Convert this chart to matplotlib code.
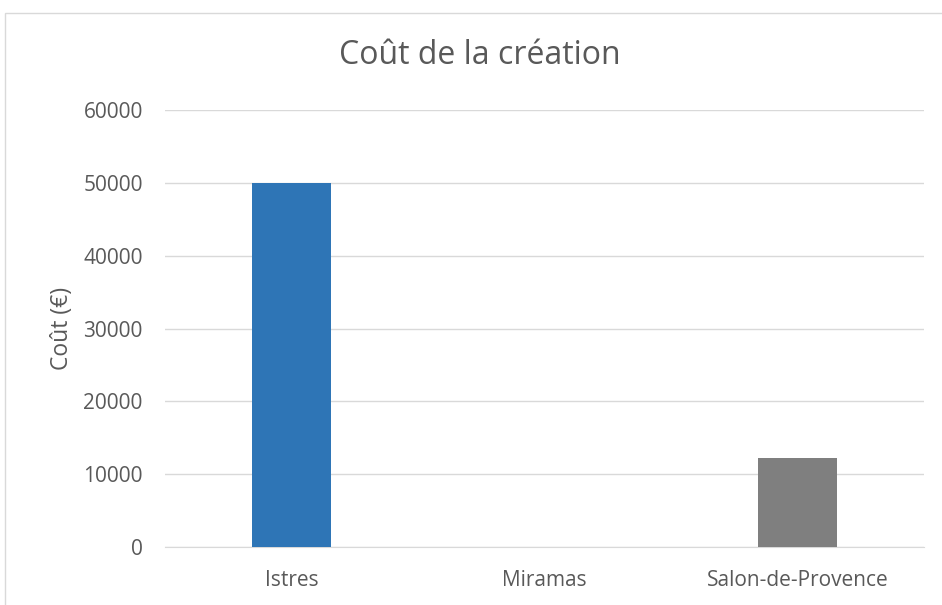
import matplotlib
matplotlib.use("Agg")
import matplotlib.pyplot as plt
from matplotlib.patches import Rectangle

categories = ["Istres", "Miramas", "Salon-de-Provence"]
values = [50000, 0, 12250]
colors = ["#2E75B6", "#ED7D31", "#7F7F7F"]
yticks = [0, 10000, 20000, 30000, 40000, 50000, 60000]

plt.rcParams['font.family'] = ['Open Sans', 'DejaVu Sans']

W, H = 942, 605
fig = plt.figure(figsize=(W/100, H/100), dpi=100)
ax = fig.add_axes([165/W, 1-547/H, (924-165)/W, (547-110)/H])

x = range(len(categories))
ax.bar(x, values, width=0.316, color=colors, zorder=3)
ax.set_xlim(-0.5, 2.5)
ax.set_ylim(0, 60000)
ax.set_yticks(yticks)
ax.set_yticklabels([str(v) for v in yticks])
ax.set_xticks(list(x))
ax.set_xticklabels(categories)
ax.tick_params(axis='both', length=0, colors='#595959', labelsize=15)
ax.tick_params(axis='y', pad=16)
ax.tick_params(axis='x', pad=16.5)
ax.grid(axis='y', color='#D9D9D9', linewidth=1, zorder=0)
for s in ['top', 'right', 'left']:
    ax.spines[s].set_visible(False)
ax.spines['bottom'].set_color('#D9D9D9')
ax.set_ylabel("Coût (€)", color='#595959', fontsize=16.5, labelpad=7)
fig.text(480/W, 1-64/H, "Coût de la création", ha='center', va='baseline',
         fontsize=23, color='#595959')

fig.patches.append(Rectangle((4.5/W, -0.1), 1.2, 1 - 13.5/H + 0.1,
                             transform=fig.transFigure, fill=False,
                             edgecolor='#D9D9D9', linewidth=1))

fig.savefig("out.png", dpi=100)
